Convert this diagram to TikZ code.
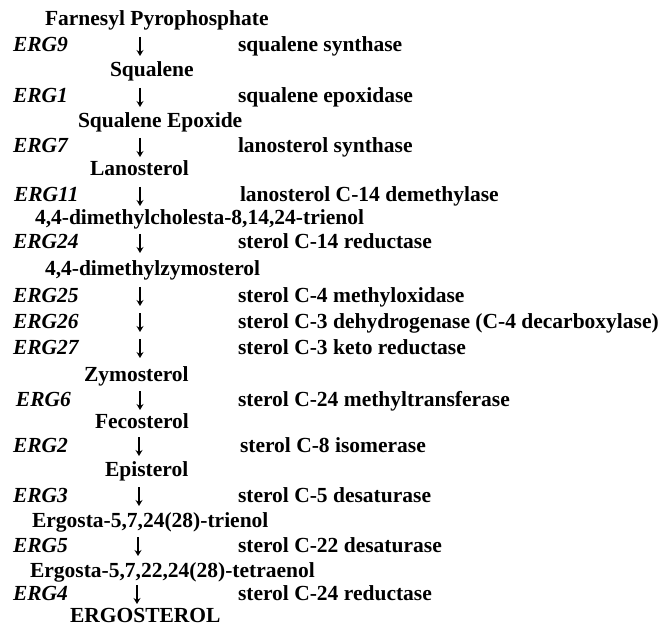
\documentclass[tikz,border=0pt]{standalone}
\usepackage{fontspec}
\setmainfont{Liberation Serif}
\usetikzlibrary{arrows.meta}
\begin{document}
\begin{tikzpicture}[x=1pt,y=-1pt,
  every node/.style={inner sep=0pt,outer sep=0pt,font=\fontsize{21.5}{24}\selectfont\bfseries},
  compound/.style={anchor=base west},
  gene/.style={anchor=base west,font=\fontsize{21.5}{24}\selectfont\bfseries\itshape},
  enzyme/.style={anchor=base west},
  steparrow/.style={line width=1.1pt,-{Stealth[length=6pt,width=7pt,inset=2pt]}}]
\useasboundingbox (0,0) rectangle (661,628);
% compounds
\node[compound] (c0) at (45,26) {Farnesyl Pyrophosphate};
\node[compound] (c1) at (110,77) {Squalene};
\node[compound] (c2) at (78,128) {Squalene Epoxide};
\node[compound] (c3) at (90,176) {Lanosterol};
\node[compound] (c4) at (35,225) {4,4-dimethylcholesta-8,14,24-trienol};
\node[compound] (c5) at (45,276) {4,4-dimethylzymosterol};
\node[compound] (c6) at (84,381) {Zymosterol};
\node[compound] (c7) at (95,428) {Fecosterol};
\node[compound] (c8) at (105,476) {Episterol};
\node[compound] (c9) at (32,527) {Ergosta-5,7,24(28)-trienol};
\node[compound] (c10) at (30,577) {Ergosta-5,7,22,24(28)-tetraenol};
\node[compound] (c11) at (70,622) {ERGOSTEROL};
% genes and enzymes
\node[gene] (g1) at (13,52) {ERG9};
\node[enzyme] (e1) at (238,52) {squalene synthase};
\node[gene] (g2) at (13,103) {ERG1};
\node[enzyme] (e2) at (238,103) {squalene epoxidase};
\node[gene] (g3) at (13,153) {ERG7};
\node[enzyme] (e3) at (238,153) {lanosterol synthase};
\node[gene] (g4) at (14,202) {ERG11};
\node[enzyme] (e4) at (240,202) {lanosterol C-14 demethylase};
\node[gene] (g5) at (13,249) {ERG24};
\node[enzyme] (e5) at (238,249) {sterol C-14 reductase};
\node[gene] (g6) at (13,302) {ERG25};
\node[enzyme] (e6) at (238,302) {sterol C-4 methyloxidase};
\node[gene] (g7) at (13,328) {ERG26};
\node[enzyme] (e7) at (238,328) {sterol C-3 dehydrogenase (C-4 decarboxylase)};
\node[gene] (g8) at (13,354) {ERG27};
\node[enzyme] (e8) at (238,354) {sterol C-3 keto reductase};
\node[gene] (g9) at (16,406) {ERG6};
\node[enzyme] (e9) at (238,406) {sterol C-24 methyltransferase};
\node[gene] (g10) at (13,452) {ERG2};
\node[enzyme] (e10) at (240,452) {sterol C-8 isomerase};
\node[gene] (g11) at (13,502) {ERG3};
\node[enzyme] (e11) at (238,502) {sterol C-5 desaturase};
\node[gene] (g12) at (13,552) {ERG5};
\node[enzyme] (e12) at (238,552) {sterol C-22 desaturase};
\node[gene] (g13) at (13,600) {ERG4};
\node[enzyme] (e13) at (238,600) {sterol C-24 reductase};
% arrows (tail / head coordinates)
\foreach \i/\x/\b in {1/140/52,2/140/103,3/140/153,4/140/202,5/140/249,6/140/302,7/140/328,8/140/354,9/140/406,10/139/452,11/139/502,12/138/552,13/137/600}{
  \coordinate (t\i) at (\x,\b-15);
  \coordinate (h\i) at (\x,\b+4);
  \draw[steparrow] (t\i) -- (h\i);
}
\end{tikzpicture}
\end{document}
